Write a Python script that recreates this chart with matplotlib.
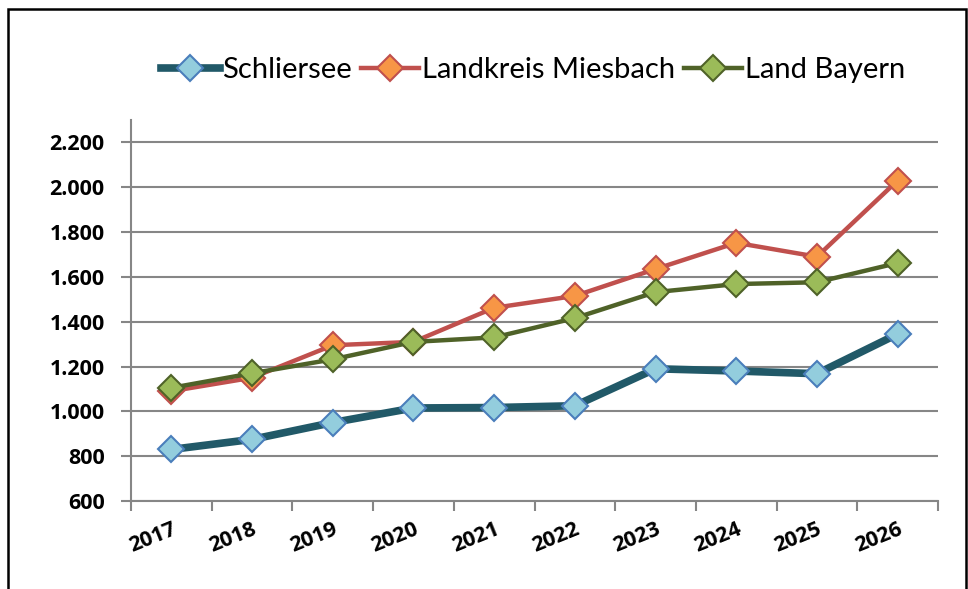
import matplotlib.pyplot as plt
import matplotlib.patches as mpatches
import numpy as np

years = ["2017", "2018", "2019", "2020", "2021", "2022", "2023", "2024", "2025", "2026"]
schliersee = [830, 875, 950, 1015, 1017, 1025, 1190, 1180, 1168, 1345]
miesbach = [1090, 1150, 1295, 1310, 1462, 1515, 1635, 1752, 1690, 2030]
bayern = [1105, 1170, 1232, 1310, 1330, 1416, 1532, 1568, 1576, 1662]
yticks = [600, 800, 1000, 1200, 1400, 1600, 1800, 2000, 2200]

plt.rcParams['font.family'] = ['Lato', 'DejaVu Sans']

W, H = 968, 589
fig = plt.figure(figsize=(W / 100, H / 100), dpi=100)
ax = fig.add_axes([131 / W, 1 - 501 / H, (938 - 131) / W, (501 - 120) / H])

x = np.arange(len(years))
grid_col = '#868686'
tick_font = dict(family=['Open Sans', 'DejaVu Sans'], size=15.5, weight='bold')

# series: (name, values, line colour, width, face, edge)
series = [
    ("Schliersee", schliersee, '#215968', 5.5, '#93CDDD', '#4A7EBB'),
    ("Landkreis Miesbach", miesbach, '#C0504D', 3.2, '#F79646', '#C0504D'),
    ("Land Bayern", bayern, '#4F6228', 3.2, '#9BBB59', '#4F6228'),
]
for name, vals, lc, lw, fc, ec in series:
    ax.plot(x, vals, color=lc, lw=lw, marker='D', ms=13,
            mfc=fc, mec=ec, mew=1.5, label=name, zorder=3)

ax.set_xlim(-0.5, len(years) - 0.5)
ax.set_ylim(600, 2300)
ax.set_yticks(yticks)
ax.set_yticklabels([f"{v:,}".replace(",", ".") for v in yticks], fontdict=tick_font)
ax.set_xticks(x)
ax.set_xticklabels(years, fontdict=tick_font, rotation=22,
                   ha='right', va='top', rotation_mode='anchor')
ax.set_xticks(np.arange(-0.5, len(years)), minor=True)
ax.tick_params(axis='x', which='major', length=0, pad=13)
ax.tick_params(axis='x', which='minor', length=7, width=1.5, color=grid_col)
ax.tick_params(axis='y', length=7, width=1.5, color=grid_col, pad=12)
ax.yaxis.grid(True, color=grid_col, lw=1.5)
ax.set_axisbelow(True)
for s in ['top', 'right']:
    ax.spines[s].set_visible(False)
for s in ['left', 'bottom']:
    ax.spines[s].set_color(grid_col)
    ax.spines[s].set_linewidth(1.5)

fig.legend(loc='center left', bbox_to_anchor=(135 / W, 1 - 70 / H), ncol=3,
           frameon=False, fontsize=21, handlelength=2.0, handletextpad=0.1,
           columnspacing=0.3)

# outer chart border
fig.patches.append(mpatches.Rectangle((8 / W, -0.05), (966 - 8) / W, 1.05 - 9 / H,
                                      transform=fig.transFigure, fill=False,
                                      edgecolor='black', lw=1.8))

fig.savefig("out.png", dpi=100)
